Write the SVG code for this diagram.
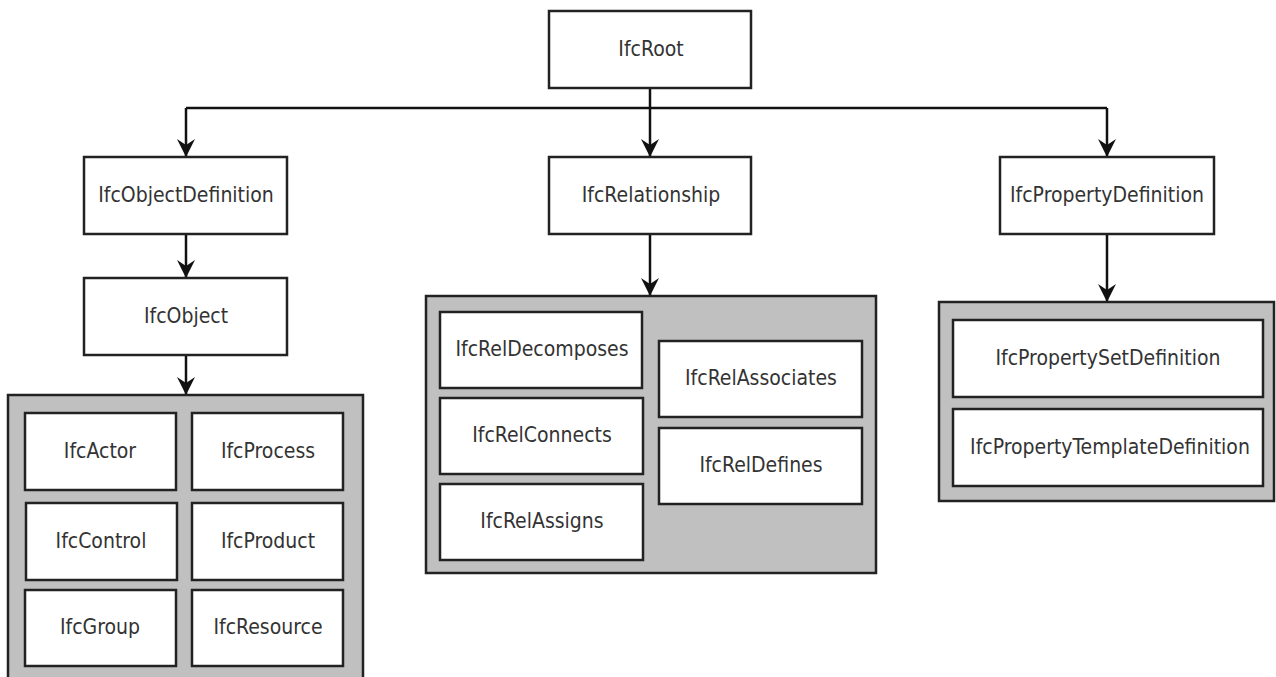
<svg xmlns="http://www.w3.org/2000/svg" width="1276" height="677" viewBox="0 0 1276 677">
<style>
.box{fill:#fff;stroke:#222;stroke-width:2.5}
.grp{fill:#c0c0c0;stroke:#222;stroke-width:2.5}
.lbl{font-family:"DejaVu Sans Condensed","DejaVu Sans",sans-serif;font-stretch:condensed;font-size:21px;fill:#333;text-anchor:middle}
.con{fill:none;stroke:#111;stroke-width:2.5}
</style>
<defs>
<marker id="arr" markerUnits="userSpaceOnUse" markerWidth="22" markerHeight="22" viewBox="-19 -11 22 22" refX="0" refY="0" orient="auto">
<path d="M1,0 L-17,-9 L-11,0 L-17,9 Z" fill="#111"/>
</marker>
</defs>
<rect width="1276" height="677" fill="#fff"/>
<g id="connectors">
<path class="con" d="M650,88 V108"/>
<path class="con" d="M186,108 H1107"/>
<path class="con" d="M186,108 V156" marker-end="url(#arr)"/>
<path class="con" d="M650,108 V156" marker-end="url(#arr)"/>
<path class="con" d="M1107,108 V156" marker-end="url(#arr)"/>
<path class="con" d="M186,234 V277" marker-end="url(#arr)"/>
<path class="con" d="M186,355 V394" marker-end="url(#arr)"/>
<path class="con" d="M650,234 V295" marker-end="url(#arr)"/>
<path class="con" d="M1107,234 V301" marker-end="url(#arr)"/>
</g>
<g id="IfcRoot"><rect class="box" x="549" y="11" width="202" height="77"/><text class="lbl" x="651" y="56">IfcRoot</text></g>
<g id="IfcObjectDefinition"><rect class="box" x="84" y="157" width="203" height="77"/><text class="lbl" x="186" y="202">IfcObjectDefinition</text></g>
<g id="IfcRelationship"><rect class="box" x="549" y="157" width="202" height="77"/><text class="lbl" x="651" y="202">IfcRelationship</text></g>
<g id="IfcPropertyDefinition"><rect class="box" x="1000" y="157" width="214" height="77"/><text class="lbl" x="1107" y="202">IfcPropertyDefinition</text></g>
<g id="IfcObject"><rect class="box" x="84" y="278" width="203" height="77"/><text class="lbl" x="186" y="323">IfcObject</text></g>
<g id="ObjectGroup">
<rect class="grp" x="8" y="395" width="355" height="295"/>
<g id="IfcActor"><rect class="box" x="25" y="413" width="151" height="77"/><text class="lbl" x="100" y="458">IfcActor</text></g>
<g id="IfcProcess"><rect class="box" x="192" y="413" width="151" height="77"/><text class="lbl" x="268" y="458">IfcProcess</text></g>
<g id="IfcControl"><rect class="box" x="26" y="503" width="151" height="77"/><text class="lbl" x="101" y="548">IfcControl</text></g>
<g id="IfcProduct"><rect class="box" x="192" y="503" width="151" height="77"/><text class="lbl" x="268" y="548">IfcProduct</text></g>
<g id="IfcGroup"><rect class="box" x="25" y="590" width="151" height="76"/><text class="lbl" x="100" y="634">IfcGroup</text></g>
<g id="IfcResource"><rect class="box" x="192" y="590" width="151" height="76"/><text class="lbl" x="268" y="634">IfcResource</text></g>
</g>
<g id="RelGroup">
<rect class="grp" x="426" y="296" width="450" height="277"/>
<g id="IfcRelDecomposes"><rect class="box" x="440" y="312" width="202" height="76"/><text class="lbl" x="542" y="356">IfcRelDecomposes</text></g>
<g id="IfcRelConnects"><rect class="box" x="440" y="398" width="203" height="76"/><text class="lbl" x="542" y="442">IfcRelConnects</text></g>
<g id="IfcRelAssigns"><rect class="box" x="440" y="484" width="203" height="76"/><text class="lbl" x="542" y="528">IfcRelAssigns</text></g>
<g id="IfcRelAssociates"><rect class="box" x="659" y="341" width="203" height="76"/><text class="lbl" x="761" y="385">IfcRelAssociates</text></g>
<g id="IfcRelDefines"><rect class="box" x="659" y="428" width="203" height="76"/><text class="lbl" x="761" y="472">IfcRelDefines</text></g>
</g>
<g id="PropGroup">
<rect class="grp" x="939" y="302" width="335" height="199"/>
<g id="IfcPropertySetDefinition"><rect class="box" x="953" y="320" width="310" height="77"/><text class="lbl" x="1108" y="365">IfcPropertySetDefinition</text></g>
<g id="IfcPropertyTemplateDefinition"><rect class="box" x="953" y="409" width="310" height="77"/><text class="lbl" x="1110" y="454">IfcPropertyTemplateDefinition</text></g>
</g>
</svg>
